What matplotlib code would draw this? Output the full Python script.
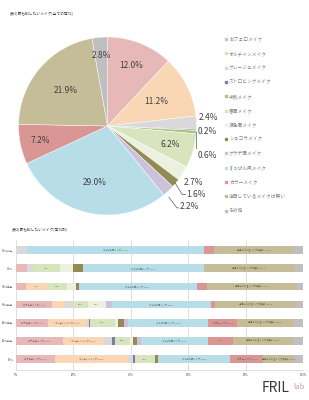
import matplotlib
matplotlib.use("Agg")
import matplotlib.pyplot as plt
import numpy as np

plt.rcParams['font.family'] = ['Noto Sans CJK JP', 'DejaVu Sans']

# categories (legend order)
makeup = ["おフェロメイク", "オルチャンメイク", "グレージュメイク", "ストロビングメイク",
          "半熟メイク", "春眉メイク", "涙色眉メイク", "ショコラメイク", "グラデ眉メイク",
          "すっぴん風メイク", "カラーメイク", "注目しているメイクは無い", "その他"]
colors = ["#e6b9b8", "#fad7b4", "#d9d9d9", "#7b7f9e", "#a9c47f", "#d7e4bd", "#ebf1de",
          "#948a54", "#ccc1da", "#b7dee8", "#d99694", "#c4bd97", "#bfbfbf"]

# table 1: all generations (%)
all_gen = [12.0, 11.2, 2.4, 0.2, 0.6, 6.2, 2.7, 1.6, 2.2, 29.0, 7.2, 21.9, 2.8]

# table 2: by generation (%), top row first
gen_labels = ["50代以上", "40代", "30代後半", "30代前半", "20代後半", "20代前半", "10代"]
by_gen = [
    [0.0, 0.0, 3.8, 0.0, 0.0, 0.0, 0.0, 0.0, 0.0, 61.7, 3.5, 27.5, 3.5],
    [3.8, 0.0, 2.0, 0.0, 0.0, 9.4, 4.5, 3.5, 0.0, 42.2, 0.0, 31.7, 2.9],
    [3.5, 7.3, 0.0, 0.0, 0.0, 7.0, 3.1, 1.0, 0.0, 41.1, 3.5, 31.4, 2.1],
    [12.5, 4.5, 2.8, 0.0, 0.0, 5.2, 6.3, 0.0, 2.0, 34.8, 1.2, 28.3, 2.4],
    [11.2, 13.4, 0.9, 0.3, 0.0, 8.8, 1.0, 2.1, 1.4, 27.9, 10.1, 19.5, 3.4],
    [16.5, 14.2, 2.7, 1.0, 0.0, 5.2, 1.0, 1.7, 1.4, 23.2, 8.7, 20.9, 3.5],
    [13.6, 25.5, 1.5, 0.8, 0.0, 7.0, 0.0, 1.2, 0.0, 25.0, 11.6, 10.5, 3.3],
]

fig = plt.figure(figsize=(3.09, 4.0), dpi=100)
txt = "#404040"

fig.text(10/309, 1-14/400, "(表1)最も試したいメイク[全ての世代]", fontsize=2.7, color=txt, va="center")
fig.text(12/309, 1-230/400, "(表2)最も試したいメイク[世代別]", fontsize=2.7, color=txt, va="center")

# ---- pie ----
ax = fig.add_axes([18.5/309, 1-215/400, 178/309, 178/400])
wedges, _ = ax.pie(all_gen, colors=colors, startangle=90, counterclock=False,
                   wedgeprops=dict(edgecolor="white", linewidth=0.3))
ax.set_xlim(-1, 1)
ax.set_ylim(-1, 1)

label_r = [0.73, 0.61, None, None, None, 0.74, None, None, None, 0.65, 0.77, 0.62, 0.80]
cum = np.cumsum([0] + all_gen)
for i, v in enumerate(all_gen):
    if label_r[i] is None:
        continue
    mid = np.deg2rad((cum[i] + v/2) * 3.6)
    ax.text(label_r[i]*np.sin(mid), label_r[i]*np.cos(mid), f"{v:.1f}%",
            ha="center", va="center", fontsize=6, color=txt)

# outside labels for small slices
outside = {2: (1.03, 0.09), 3: (1.01, -0.064), 4: (1.01, -0.33),
           6: (0.86, -0.63), 7: (0.89, -0.77), 8: (0.81, -0.91)}
for i, (x, y) in outside.items():
    ax.text(x, y, f"{all_gen[i]:.1f}%", ha="left", va="center", fontsize=6, color=txt)
lc = "#595959"
ax.plot([0.99, 0.99], [-0.07, -0.25], color=lc, lw=0.5, clip_on=False)
ax.plot([0.76, 0.84, 0.88], [-0.64, -0.77, -0.77], color=lc, lw=0.5, clip_on=False)
ax.plot([0.69, 0.78, 0.80], [-0.80, -0.92, -0.92], color=lc, lw=0.5, clip_on=False)

# legend
for i, name in enumerate(makeup):
    y = 1 - (39 + i*14.3)/400
    fig.patches.append(plt.Rectangle((224.5/309, y - 1/400), 2/309, 2/400,
                                     transform=fig.transFigure, color=colors[i]))
    fig.text(229/309, y, name, fontsize=3.4, color="#7f7f7f", va="center")

# ---- stacked bars ----
bx = fig.add_axes([16/309, 30/400, 287/309, 130/400])
ypos = np.arange(len(gen_labels))[::-1]
data = np.array(by_gen)
left = np.zeros(len(gen_labels))
for j, name in enumerate(makeup):
    w = data[:, j]
    bx.barh(ypos, w, left=left, height=0.42, color=colors[j], zorder=2)
    for k in range(len(gen_labels)):
        if w[k] >= 10:
            s = f"{name} {w[k]:.1f}%"
        elif w[k] >= 5:
            s = f"{w[k]:.1f}%"
        else:
            s = None
        if s:
            bx.text(left[k] + w[k]/2, ypos[k], s, ha="center", va="center",
                    fontsize=1.6, color="#595959", zorder=3)
    left += w

bx.set_xlim(0, 100)
bx.set_ylim(-0.6, 6.55)
bx.set_xticks([0, 20, 40, 60, 80, 100])
bx.set_xticklabels([f"{t}%" for t in [0, 20, 40, 60, 80, 100]], fontsize=2, color="#595959")
bx.set_yticks(ypos)
bx.set_yticklabels(gen_labels, fontsize=2, color="#595959")
bx.tick_params(length=0, pad=2)
bx.grid(axis="x", color="#d9d9d9", lw=0.6, zorder=0)
for s in ["top", "right", "left"]:
    bx.spines[s].set_visible(False)
bx.spines["bottom"].set_color("#d9d9d9")
bx.spines["bottom"].set_linewidth(0.6)

# logo
fig.text(262/309, 1-388/400, "FRIL", fontsize=10, color="#3a3a3a", va="center")
fig.text(293/309, 1-387/400, "lab", fontsize=5.5, color="#c9a09a", va="center", style="italic")

fig.savefig("out.png", dpi=100)
